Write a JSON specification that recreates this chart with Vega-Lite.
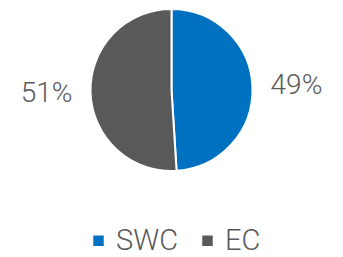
{
  "$schema": "https://vega.github.io/schema/vega-lite/v6.json",
  "width": 343,
  "height": 180,
  "padding": 0,
  "background": "white",
  "config": {"view": {"stroke": null}, "font": "Roboto"},
  "data": {"values": [
    {"category": "SWC", "share": 0.49},
    {"category": "EC", "share": 0.51}
  ]},
  "encoding": {
    "theta": {"field": "share", "type": "quantitative", "stack": true},
    "order": {"field": "category", "sort": "descending"},
    "color": {
      "field": "category", "type": "nominal",
      "scale": {"domain": ["SWC", "EC"], "range": ["#0070C0", "#595959"]},
      "legend": {
        "title": null, "orient": "none", "legendX": 84, "legendY": 226, "direction": "horizontal",
        "symbolType": "square", "symbolSize": 110, "symbolStrokeWidth": 0,
        "labelFontSize": 29, "labelColor": "#595959", "labelFont": "Roboto",
        "labelFontWeight": 300, "labelOffset": 3, "columnPadding": 14
      }
    }
  },
  "layer": [
    {"mark": {"type": "arc", "outerRadius": 81, "stroke": "white", "strokeWidth": 2}},
    {"mark": {"type": "text", "radius": 125, "fontSize": 28, "font": "Roboto", "fontWeight": 300, "fill": "#595959"},
     "encoding": {"text": {"field": "share", "type": "quantitative", "format": ".0%"}, "color": {"value": "#595959"}}}
  ]
}
